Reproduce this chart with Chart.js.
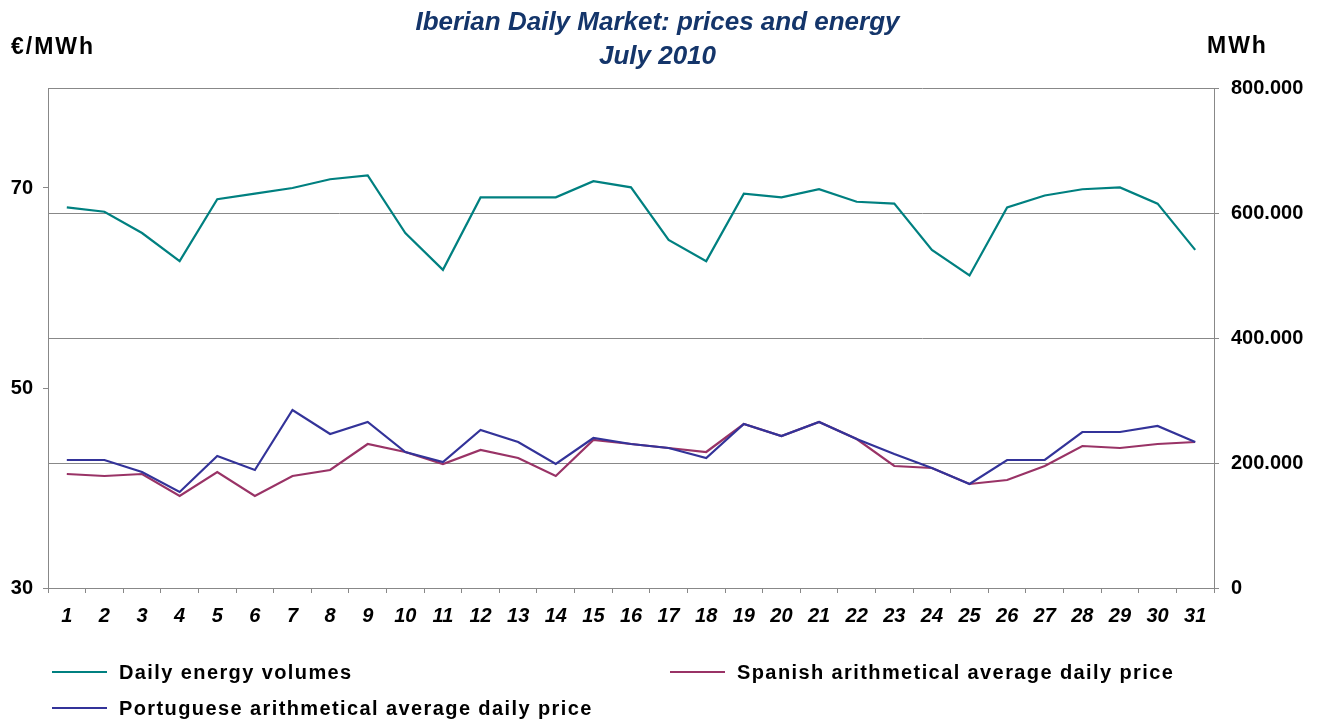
<!DOCTYPE html>
<html>
<head>
<meta charset="utf-8">
<script src="https://cdn.jsdelivr.net/npm/chart.js@4.4.1/dist/chart.umd.min.js"></script>
<style>
  body { margin: 0; background: #fff; font-family: "Liberation Sans", Arial, sans-serif; }
  .wrap { position: relative; width: 1326px; height: 722px; }
  .title { position: absolute; left: 0; top: 4px; width: 1315px; text-align: center;
           font-size: 26px; line-height: 34px; font-weight: bold; font-style: italic; color: #14356A; }
  .unit { position: absolute; font-size: 23px; line-height: 23px; font-weight: bold; letter-spacing: 2px; color: #000; }
  .legend { position: absolute; left: 52px; top: 654px; display: grid; grid-template-columns: 618px auto; }
  .legend .item { display: flex; align-items: center; height: 36px; font-size: 20px; line-height: 36px;
                  font-weight: bold; letter-spacing: 1.4px; color: #000; }
  .legend .swatch { width: 55px; height: 2px; margin-right: 12px; }
</style>
</head>
<body>
<div class="wrap">
  <canvas id="chart" width="1326" height="722"></canvas>
  <div class="title">Iberian Daily Market: prices and energy<br>July 2010</div>
  <div class="unit" style="left:11px; top:35px;">€/MWh</div>
  <div class="unit" style="left:1207px; top:34px;">MWh</div>
  <div class="legend" id="legend"></div>
</div>
<script>
// days of July 2010
const days = ['1','2','3','4','5','6','7','8','9','10','11','12','13','14','15','16',
              '17','18','19','20','21','22','23','24','25','26','27','28','29','30','31'];

// MWh, right axis
const energy = [609000, 602000, 568000, 523000, 622000, 631000, 640000, 654000, 660000, 568000,
                509000, 625000, 625000, 625000, 651000, 641000, 557000, 523000, 631000, 625000,
                638000, 618000, 615000, 541000, 500000, 609000, 628000, 638000, 641000, 615000, 541000];

// €/MWh, left axis
const spanish = [41.4, 41.2, 41.4, 39.2, 41.6, 39.2, 41.2, 41.8, 44.4, 43.6, 42.4, 43.8, 43.0, 41.2,
                 44.8, 44.4, 44.0, 43.6, 46.4, 45.2, 46.6, 44.9, 42.2, 42.0, 40.4, 40.8, 42.2, 44.2,
                 44.0, 44.4, 44.6];
const portuguese = [42.8, 42.8, 41.6, 39.6, 43.2, 41.8, 47.8, 45.4, 46.6, 43.6, 42.6, 45.8, 44.6, 42.4,
                    45.0, 44.4, 44.0, 43.0, 46.4, 45.2, 46.6, 44.9, 43.4, 42.0, 40.4, 42.8, 42.8, 45.6,
                    45.6, 46.2, 44.6];

const leftTicks = [30, 50, 70];
const rightTicks = [0, 200000, 400000, 600000, 800000];

const seriesNames = ['Daily energy volumes',
                     'Spanish arithmetical average daily price',
                     'Portuguese arithmetical average daily price'];
const seriesColors = ['#008080', '#993366', '#333399'];

const axisGray = '#888888';
const tickFont = { family: '"Liberation Sans", Arial, sans-serif', size: 20, weight: 'bold' };

function dots(v) {
    return String(v).replace(/\B(?=(\d{3})+(?!\d))/g, '.');
}

let ctx = document.getElementById('chart').getContext('2d');

let chart = new Chart(ctx, {
    type: 'line',
    data: {
        labels: days,
        datasets: [{
            label: seriesNames[0],
            data: energy,
            yAxisID: 'y1',
            borderColor: seriesColors[0],
            order: 2
        }, {
            label: seriesNames[1],
            data: spanish,
            yAxisID: 'y',
            borderColor: seriesColors[1],
            order: 1
        }, {
            label: seriesNames[2],
            data: portuguese,
            yAxisID: 'y',
            borderColor: seriesColors[2],
            order: 0
        }]
    },
    options: {
        responsive: false,
        animation: false,
        layout: { padding: { top: 88, left: 0, right: 0, bottom: 94 } },
        elements: {
            line: { borderWidth: 2.2, tension: 0, fill: false },
            point: { radius: 0, hoverRadius: 0 }
        },
        plugins: {
            legend: { display: false },
            title: { display: false },
            tooltip: { enabled: false }
        },
        scales: {
            x: {
                offset: true,
                grid: { offset: true, drawOnChartArea: false, drawTicks: true, tickLength: 5, color: axisGray },
                border: { color: axisGray },
                ticks: {
                    color: '#000',
                    font: { ...tickFont, style: 'italic' },
                    padding: 11,
                    maxRotation: 0,
                    autoSkip: false
                },
                afterFit: s => { s.height = 40; }
            },
            y: {
                position: 'left',
                min: 30,
                max: 80,
                afterBuildTicks: s => { s.ticks = leftTicks.map(v => ({ value: v })); },
                grid: { drawOnChartArea: false, drawTicks: true, tickLength: 5, color: axisGray },
                border: { color: axisGray },
                ticks: { color: '#000', font: tickFont, padding: 10 },
                afterFit: s => { s.width = 48; }
            },
            y1: {
                position: 'right',
                min: 0,
                max: 800000,
                afterBuildTicks: s => { s.ticks = rightTicks.map(v => ({ value: v })); },
                grid: { drawOnChartArea: true, drawTicks: true, tickLength: 5, color: axisGray },
                border: { color: axisGray },
                ticks: { color: '#000', font: tickFont, padding: 12, callback: v => dots(v) },
                afterFit: s => { s.width = 112; }
            }
        }
    }
});

// legend built from the chart's datasets, two columns like the original
const legendBox = document.getElementById('legend');
chart.data.datasets.forEach(ds => {
    const item = document.createElement('div');
    item.className = 'item';
    const sw = document.createElement('span');
    sw.className = 'swatch';
    sw.style.background = ds.borderColor;
    item.appendChild(sw);
    item.appendChild(document.createTextNode(ds.label));
    legendBox.appendChild(item);
});
</script>
</body>
</html>
